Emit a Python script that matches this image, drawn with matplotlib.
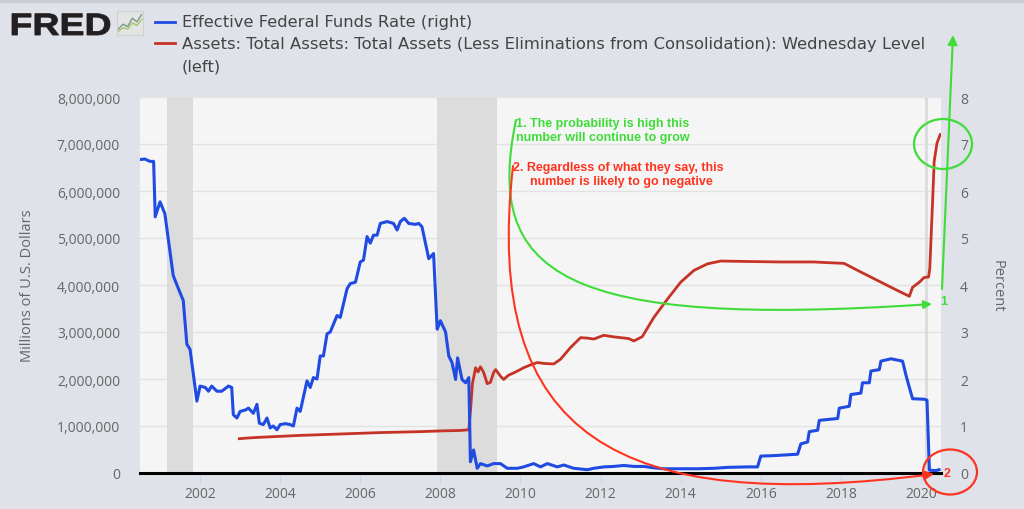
import matplotlib.pyplot as plt
from matplotlib.lines import Line2D
from matplotlib.patches import Rectangle, Ellipse, FancyArrowPatch, PathPatch
from matplotlib.path import Path
from matplotlib.textpath import TextPath
from matplotlib.font_manager import FontProperties
from matplotlib.transforms import Affine2D

plt.rcParams['font.family'] = ['Open Sans', 'DejaVu Sans']

W, H = 1024, 510

# ---- data ----
# Effective Federal Funds Rate (percent, right axis)
fed_year = [2000.50, 2000.62, 2000.75, 2000.84, 2000.88, 2001.00, 2001.12, 2001.25, 2001.33,
            2001.46, 2001.58, 2001.67, 2001.75, 2001.92, 2002.00, 2002.13, 2002.21, 2002.29,
            2002.42, 2002.54, 2002.71, 2002.79, 2002.83, 2002.92, 2003.00, 2003.13, 2003.21,
            2003.33, 2003.42, 2003.48, 2003.58, 2003.67, 2003.75, 2003.83, 2003.92, 2004.00,
            2004.13, 2004.25, 2004.33, 2004.42, 2004.50, 2004.67, 2004.75, 2004.83, 2004.92,
            2005.00, 2005.08, 2005.17, 2005.25, 2005.42, 2005.50, 2005.67, 2005.75, 2005.88,
            2006.00, 2006.08, 2006.17, 2006.25, 2006.33, 2006.42, 2006.50, 2006.67, 2006.83,
            2006.92, 2007.00, 2007.10, 2007.21, 2007.38, 2007.46, 2007.54, 2007.71, 2007.83,
            2007.92, 2008.00, 2008.13, 2008.21, 2008.29, 2008.38, 2008.43, 2008.54, 2008.63,
            2008.71, 2008.75, 2008.83, 2008.92, 2009.00, 2009.17, 2009.33, 2009.50, 2009.67,
            2009.92, 2010.08, 2010.33, 2010.50, 2010.67, 2010.92, 2011.08, 2011.33, 2011.67,
            2011.83, 2012.08, 2012.33, 2012.58, 2012.83, 2013.08, 2013.33, 2013.58, 2014.00,
            2014.42, 2014.83, 2015.17, 2015.67, 2015.92, 2016.00, 2016.33, 2016.92, 2017.00,
            2017.17, 2017.21, 2017.42, 2017.46, 2017.92, 2017.96, 2018.21, 2018.25, 2018.50,
            2018.54, 2018.71, 2018.75, 2018.96, 2019.00, 2019.25, 2019.54, 2019.62, 2019.70,
            2019.79, 2020.08, 2020.15, 2020.21, 2020.37, 2020.45]
fed_rate = [6.67, 6.68, 6.63, 6.63, 5.45, 5.77, 5.52, 4.70, 4.20,
            3.92, 3.67, 2.74, 2.63, 1.53, 1.85, 1.82, 1.74, 1.85,
            1.74, 1.74, 1.85, 1.82, 1.24, 1.17, 1.31, 1.34, 1.38,
            1.27, 1.46, 1.06, 1.03, 1.17, 0.96, 1.00, 0.92, 1.03,
            1.05, 1.03, 1.00, 1.38, 1.31, 1.96, 1.82, 2.03, 2.00,
            2.49, 2.49, 2.96, 3.00, 3.35, 3.31, 3.92, 4.03, 4.06,
            4.49, 4.53, 5.03, 4.89, 5.06, 5.06, 5.31, 5.35, 5.31,
            5.17, 5.35, 5.42, 5.31, 5.29, 5.31, 5.24, 4.56, 4.67,
            3.06, 3.24, 3.00, 2.49, 2.35, 1.99, 2.45, 1.99, 1.92,
            2.03, 0.24, 0.49, 0.10, 0.20, 0.15, 0.20, 0.20, 0.10,
            0.10, 0.13, 0.20, 0.13, 0.20, 0.13, 0.17, 0.10, 0.07,
            0.10, 0.13, 0.14, 0.16, 0.14, 0.14, 0.11, 0.09, 0.09,
            0.09, 0.10, 0.12, 0.13, 0.13, 0.36, 0.37, 0.40, 0.62,
            0.66, 0.88, 0.91, 1.12, 1.16, 1.38, 1.42, 1.67, 1.70,
            1.92, 1.92, 2.17, 2.20, 2.38, 2.43, 2.38, 2.10, 1.85,
            1.58, 1.57, 1.55, 0.06, 0.05, 0.07]

# Total Assets (millions of U.S. dollars, left axis)
assets_year = [2002.98, 2003.20, 2003.50, 2004.00, 2004.50, 2005.00, 2005.50, 2006.00, 2006.50,
               2007.00, 2007.50, 2008.00, 2008.50, 2008.71, 2008.75, 2008.80, 2008.88, 2008.94,
               2009.00, 2009.08, 2009.17, 2009.25, 2009.33, 2009.38, 2009.50, 2009.58, 2009.70,
               2009.83, 2009.95, 2010.08, 2010.25, 2010.42, 2010.60, 2010.83, 2011.00, 2011.25,
               2011.50, 2011.67, 2011.83, 2012.08, 2012.30, 2012.50, 2012.70, 2012.83, 2013.04,
               2013.33, 2013.67, 2014.00, 2014.33, 2014.67, 2015.00, 2015.67, 2016.50, 2017.33,
               2017.80, 2018.08, 2018.42, 2019.00, 2019.42, 2019.71, 2019.79, 2019.96, 2020.08,
               2020.19, 2020.22, 2020.29, 2020.33, 2020.40, 2020.48]
assets_musd = [730000, 745000, 760000, 780000, 800000, 815000, 830000, 845000, 860000,
               870000, 880000, 895000, 905000, 920000, 1300000, 1900000, 2240000, 2150000,
               2260000, 2140000, 1900000, 1930000, 2140000, 2200000, 2060000, 1990000, 2080000,
               2130000, 2180000, 2240000, 2300000, 2350000, 2330000, 2320000, 2420000, 2670000,
               2880000, 2870000, 2850000, 2930000, 2900000, 2880000, 2860000, 2810000, 2900000,
               3310000, 3700000, 4060000, 4310000, 4450000, 4510000, 4500000, 4490000, 4490000,
               4470000, 4460000, 4310000, 4060000, 3880000, 3760000, 3950000, 4060000, 4160000,
               4170000, 4350000, 5780000, 6630000, 7020000, 7200000]

rec_start = [2001.17, 2007.92, 2020.10]
rec_end = [2001.83, 2009.42, 2020.18]

x_ticks = [2002, 2004, 2006, 2008, 2010, 2012, 2014, 2016, 2018, 2020]
left_ticks = [0, 1000000, 2000000, 3000000, 4000000, 5000000, 6000000, 7000000, 8000000]
right_ticks = [0, 1, 2, 3, 4, 5, 6, 7, 8]

icon_x = [0, 1, 2, 3, 4, 5]
icon_a = [0.25, 0.45, 0.35, 0.70, 0.55, 0.85]
icon_b = [0.15, 0.30, 0.25, 0.50, 0.40, 0.65]

BLUE = '#1f4be3'
RED = '#c53326'
GREEN_NOTE = '#3fdc3a'
RED_NOTE = '#ff3420'
LABEL = '#666666'
PT = 72 / 100  # points per pixel at dpi 100


def px(x, y):
    # figure pixel (from top-left) -> figure fraction
    return (x / W, 1 - y / H)


fig = plt.figure(figsize=(W / 100, H / 100), dpi=100, facecolor='#dfe2e8')
fig.add_artist(Rectangle((0, 1 - 4 / H), 1, 4 / H, transform=fig.transFigure,
                         color='#c9ccd1', lw=0))

ax = fig.add_axes([140 / W, 36 / H, 801 / W, 376 / H])
ax.set_facecolor('#f5f5f5')
for s, e in zip(rec_start, rec_end):
    ax.axvspan(s, e, color='#dcdcdc', lw=0, zorder=1)

ax.plot(assets_year, assets_musd, color=RED, lw=2.0, zorder=3)
ax.set_xlim(2000.5, 2020.5)
ax.set_ylim(0, 8000000)
ax.set_xticks(x_ticks)
ax.set_yticks(left_ticks)
ax.set_yticklabels([f"{v:,}" for v in left_ticks])
ax.yaxis.grid(True, color='#e2e2e2', lw=1.0)
ax.set_axisbelow(True)
for side in ['top', 'right', 'left']:
    ax.spines[side].set_visible(False)
ax.spines['bottom'].set_color('black')
ax.spines['bottom'].set_linewidth(2.2)
ax.spines['bottom'].set_zorder(5)
ax.tick_params(axis='x', length=11 * PT, color='#ccd6eb', labelcolor=LABEL,
               labelsize=10, pad=2 * PT)
ax.tick_params(axis='y', length=0, labelcolor=LABEL, labelsize=10, pad=20 * PT)
ax.set_ylabel('Millions of U.S. Dollars', color=LABEL, fontsize=10.5, va='center')
ax.yaxis.set_label_coords((28 - 140) / 801, 0.5)

ax2 = ax.twinx()
ax2.plot(fed_year, fed_rate, color=BLUE, lw=2.2, zorder=3)
ax2.set_ylim(0, 8)
ax2.set_yticks(right_ticks)
for side in ['top', 'right', 'left', 'bottom']:
    ax2.spines[side].set_visible(False)
ax2.tick_params(axis='y', length=0, labelcolor=LABEL, labelsize=10, pad=19 * PT)
ax2.set_ylabel('Percent', color=LABEL, fontsize=10.5, rotation=270, va='center')
ax2.yaxis.set_label_coords((997 - 140) / 801, 0.5)

# ---- header: logo + legend ----
logo = TextPath((0, 0), 'FRED', size=31,
                prop=FontProperties(family='Liberation Sans', weight='bold'))
lb = logo.get_extents()
sx = 98 / lb.width
fig.add_artist(PathPatch(logo, fc='#231f20', ec='#231f20', lw=0.6,
                         transform=Affine2D().translate(-lb.x0, 0).scale(sx, 1)
                         .translate(12, H - 36)))
icon = fig.add_axes([117 / W, 1 - 36 / H, 26 / W, 24 / H])
icon.set_facecolor('#e4e4e4')
icon.plot(icon_x, icon_a, color='#7a9a8a', lw=1.0)
icon.plot(icon_x, icon_b, color='#a8c46a', lw=1.0)
icon.set_xlim(-0.3, 5.3)
icon.set_ylim(0, 1)
icon.set_xticks([])
icon.set_yticks([])
for sp in icon.spines.values():
    sp.set_color('#d0d0d0')

fig.add_artist(Line2D([155 / W, 175 / W], [1 - 22.5 / H] * 2, color=BLUE, lw=2,
                      transform=fig.transFigure))
fig.add_artist(Line2D([155 / W, 175 / W], [1 - 43.5 / H] * 2, color=RED, lw=2,
                      transform=fig.transFigure))
leg_kw = dict(fontsize=11.8, color='#444444', va='center', ha='left',
              family=['DejaVu Sans'])
fig.text(*px(182, 23), 'Effective Federal Funds Rate (right)', **leg_kw)
fig.text(*px(182, 45), 'Assets: Total Assets: Total Assets (Less Eliminations from '
         'Consolidation): Wednesday Level', **leg_kw)
fig.text(*px(182, 67), '(left)', **leg_kw)

# ---- hand-drawn annotations ----
note_kw = dict(fontsize=9, fontweight='bold', va='center', ha='left',
               family=['Liberation Sans', 'DejaVu Sans'])
fig.text(*px(516, 124), '1. The probability is high this', color=GREEN_NOTE, **note_kw)
fig.text(*px(516, 138), 'number will continue to grow', color=GREEN_NOTE, **note_kw)
fig.text(*px(513, 168), '2. Regardless of what they say, this', color=RED_NOTE, **note_kw)
fig.text(*px(530, 182), 'number is likely to go negative', color=RED_NOTE, **note_kw)

curve = [Path.MOVETO, Path.CURVE4, Path.CURVE4, Path.CURVE4]
g_path = Path([px(516, 121), px(484, 275), px(560, 330), px(932, 305)], curve)
r_path = Path([px(513, 167), px(482, 440), px(620, 515), px(934, 475)], curve)
for p, c in [(g_path, GREEN_NOTE), (r_path, RED_NOTE)]:
    fig.add_artist(FancyArrowPatch(path=p, transform=fig.transFigure, arrowstyle='-|>',
                                   mutation_scale=12, lw=1.5, color=c))
fig.add_artist(FancyArrowPatch(px(942, 290), px(953, 36), transform=fig.transFigure,
                               arrowstyle='-|>', mutation_scale=14, lw=1.5,
                               color=GREEN_NOTE, shrinkA=0, shrinkB=0))
fig.text(*px(940, 302), '1', color=GREEN_NOTE, fontsize=9, fontweight='bold',
         va='center', ha='left', family=['Liberation Sans', 'DejaVu Sans'])
fig.text(*px(944, 474), '2', color=RED_NOTE, fontsize=9, fontweight='bold',
         va='center', ha='left', family=['Liberation Sans', 'DejaVu Sans'])
fig.add_artist(Ellipse(px(943, 145), 58 / W, 50 / H, transform=fig.transFigure,
                       fill=False, ec=GREEN_NOTE, lw=1.6))
fig.add_artist(Ellipse(px(950, 473), 54 / W, 45 / H, transform=fig.transFigure,
                       fill=False, ec=RED_NOTE, lw=1.6))

fig.savefig('out.png', dpi=100, facecolor=fig.get_facecolor())
